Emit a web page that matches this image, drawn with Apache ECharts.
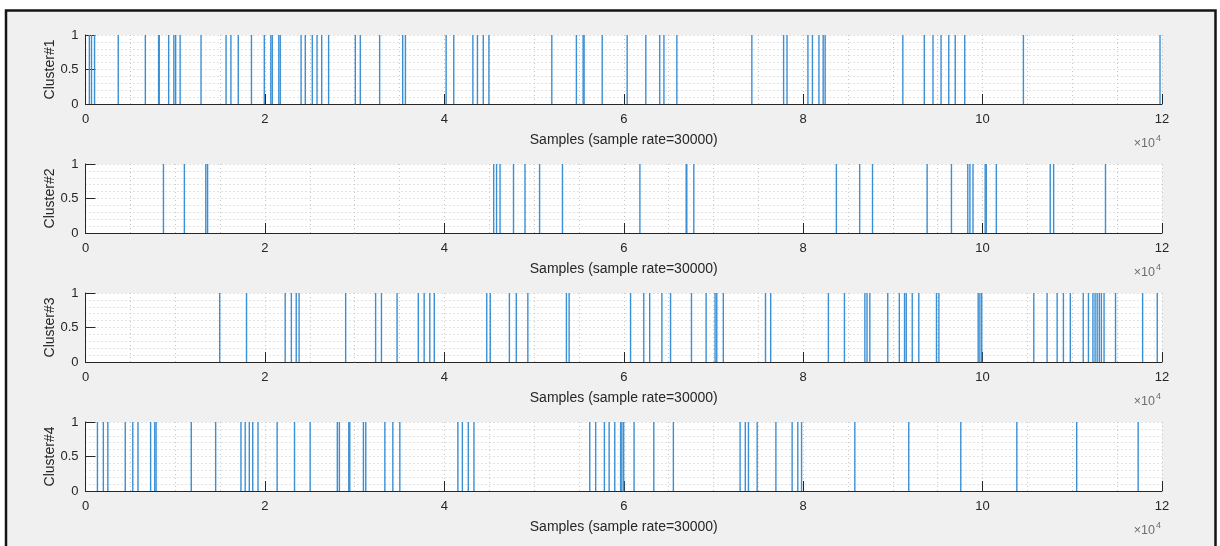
<!DOCTYPE html>
<html>
<head>
<meta charset="utf-8">
<title>Cluster spike trains</title>
<script src="https://cdn.jsdelivr.net/npm/echarts@6/dist/echarts.min.js"></script>
<style>
  html, body { margin: 0; padding: 0; background: #ffffff; }
  #chart { width: 1220px; height: 546px; }
</style>
</head>
<body>
<div id="chart"></div>
<script>
// Spike sample indices for each cluster (sample rate 30000)
const cluster1 = [430, 670, 1010, 3650, 6670, 8150, 8220, 9270, 9850, 10050, 10550, 12880, 15670, 16210, 17030, 18500, 19930, 20660, 20820, 21550, 21710, 24030, 24500, 25280, 25810, 26330, 27100, 30080, 30630, 32790, 35360, 35660, 40200, 41050, 43180, 43690, 44340, 44970, 51980, 54720, 55470, 55580, 57600, 60380, 62460, 64010, 64480, 65920, 74280, 77820, 78200, 80530, 81030, 81760, 82230, 82450, 91110, 93500, 94470, 95370, 96230, 96950, 98010, 104550, 119780];
const cluster2 = [8690, 11020, 13410, 13610, 45500, 45820, 46210, 47710, 48990, 50620, 53170, 61800, 66960, 67030, 67810, 83700, 86300, 87730, 93820, 96530, 98350, 98590, 98930, 100290, 100410, 101530, 107540, 107920, 113700];
const cluster3 = [14960, 17950, 22260, 22950, 23490, 23810, 29000, 32340, 32990, 34730, 37100, 37750, 38380, 38880, 44730, 45120, 47250, 48020, 49310, 53610, 53910, 60760, 62230, 62890, 64250, 65220, 67550, 69180, 70180, 70370, 71100, 75800, 76380, 82810, 84600, 86880, 87120, 87430, 89430, 90720, 91300, 91490, 92160, 92890, 94860, 95130, 99510, 99700, 99900, 105710, 107190, 108310, 109010, 109780, 111220, 111800, 112300, 112540, 112770, 113010, 113240, 113540, 114820, 117840, 119470];
const cluster4 = [1330, 1990, 2490, 4430, 5270, 5850, 7260, 7720, 7870, 11790, 14510, 17330, 17800, 18260, 18640, 19230, 21360, 23300, 25040, 28070, 28300, 29350, 29460, 30980, 31240, 33370, 34260, 35040, 41510, 42010, 42670, 43300, 56210, 56870, 57840, 58370, 59000, 59650, 59790, 59990, 61150, 63350, 65530, 72970, 73550, 73900, 74870, 76960, 78770, 79400, 79820, 85760, 91770, 97570, 103820, 110490, 117340];

const clusterNames = ['Cluster#1', 'Cluster#2', 'Cluster#3', 'Cluster#4'];
const clusters = [cluster1, cluster2, cluster3, cluster4];
const xLabel = 'Samples (sample rate=30000)';
const xMax = 120000;
const xStep = 20000;
const xScale = 10000;     // tick labels are shown in units of 1e4
const yTicks = [0, 0.5, 1];

const axisColor = '#262626';
const spikeColor = '#3b8fd4';
const gridDots = { color: '#c4c4c4', width: 1, type: [1, 3] };
const font = 'Liberation Sans, Arial, Helvetica, sans-serif';

const gridTops = [35, 164, 293, 422];
const gridHeight = 69;

const chart = echarts.init(document.getElementById('chart'), null, { renderer: 'canvas' });

const grids = [], xAxes = [], yAxes = [], series = [], texts = [];

clusters.forEach((spikes, i) => {
  grids.push({
    left: 85.5, right: 58, top: gridTops[i], height: gridHeight,
    show: true, backgroundColor: '#ffffff', borderWidth: 0
  });
  xAxes.push({
    gridIndex: i, type: 'value', min: 0, max: xMax, interval: xStep,
    axisLine: { show: true, lineStyle: { color: axisColor, width: 1 } },
    axisTick: { show: true, inside: true, length: 10, lineStyle: { color: axisColor } },
    axisLabel: {
      color: axisColor, fontSize: 13, fontFamily: font, margin: 9,
      formatter: v => String(v / xScale)
    },
    splitLine: { show: true, lineStyle: gridDots },
    minorTick: { show: false, splitNumber: 4 },
    minorSplitLine: { show: true, lineStyle: gridDots },
    name: xLabel, nameLocation: 'middle', nameGap: 29,
    nameTextStyle: { color: axisColor, fontSize: 14, fontFamily: font }
  });
  yAxes.push({
    gridIndex: i, type: 'value', min: yTicks[0], max: yTicks[yTicks.length - 1],
    interval: yTicks[1] - yTicks[0],
    axisLine: { show: true, lineStyle: { color: axisColor, width: 1 } },
    axisTick: { show: true, inside: true, length: 10, lineStyle: { color: axisColor } },
    axisLabel: { color: axisColor, fontSize: 13, fontFamily: font, margin: 7 },
    splitLine: { show: true, lineStyle: gridDots },
    minorTick: { show: false, splitNumber: 5 },
    minorSplitLine: { show: true, lineStyle: gridDots },
    name: clusterNames[i], nameLocation: 'middle', nameGap: 28, nameRotate: 90,
    nameMoveOverlap: false,
    nameTextStyle: { color: axisColor, fontSize: 14, fontFamily: font }
  });
  series.push({
    type: 'custom', xAxisIndex: i, yAxisIndex: i, z: 5,
    data: spikes.map(s => [s, 1]),
    encode: { x: 0, y: 1 },
    renderItem: (params, api) => {
      const x = api.value(0);
      const p0 = api.coord([x, 0]);
      const p1 = api.coord([x, api.value(1)]);
      return {
        type: 'line',
        shape: { x1: p0[0], y1: p0[1], x2: p1[0], y2: p1[1] },
        style: { stroke: spikeColor, lineWidth: 1.4 }
      };
    }
  });
  // exponent marker under the right end of each x axis
  const baseY = gridTops[i] + gridHeight + 40;
  texts.push({
    type: 'text', right: 65, top: baseY - 7, z: 10,
    style: { text: '×10', fill: '#6e6e6e', font: '12.5px ' + font }
  });
  texts.push({
    type: 'text', left: 1156, top: baseY - 10, z: 10,
    style: { text: '4', fill: '#6e6e6e', font: '9px ' + font }
  });
});

chart.setOption({
  animation: false,
  backgroundColor: 'transparent',
  graphic: [
    {
      type: 'rect', z: -100,
      shape: { x: 6, y: 10.5, width: 1209.5, height: 560 },
      style: { fill: '#f0f0f0', stroke: '#141414', lineWidth: 2.5 }
    }
  ].concat(texts),
  grid: grids,
  xAxis: xAxes,
  yAxis: yAxes,
  series: series
});
</script>
</body>
</html>
